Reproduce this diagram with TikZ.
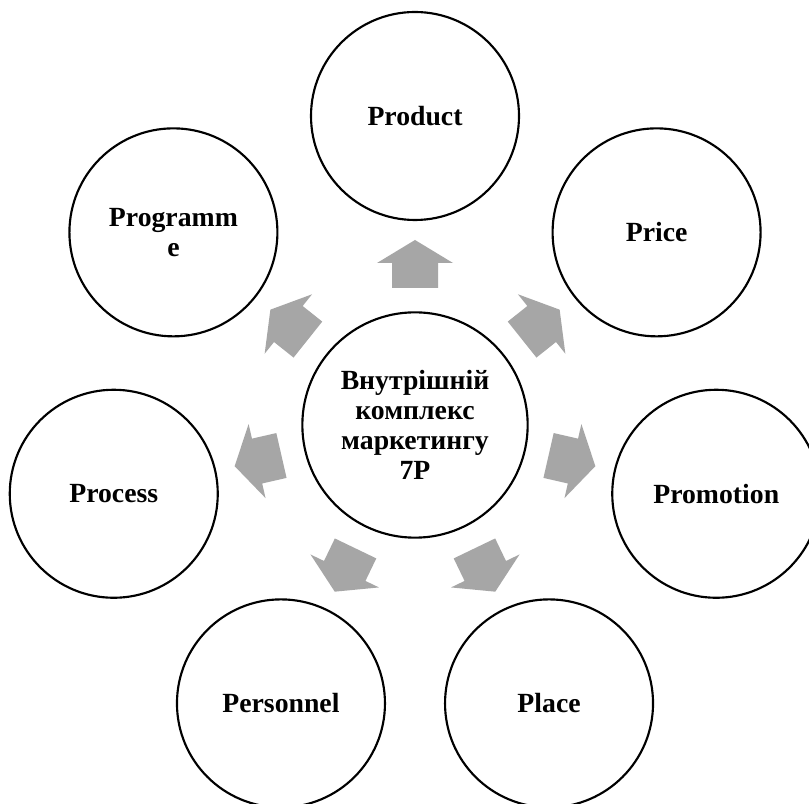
\documentclass[tikz,border=0pt]{standalone}
\usepackage{fontspec}
\setmainfont{Liberation Serif}
\usetikzlibrary{calc}
\definecolor{arrowgray}{RGB}{166,166,166}
\tikzset{
  ring/.style={circle, draw=black, line width=1.6pt, fill=white, inner sep=0pt,
    minimum size=156pt, align=center,
    font=\bfseries\fontsize{20.8}{22.5}\selectfont},
  hubring/.style={ring, minimum size=169pt},
  blockarrow/.style={fill=arrowgray, draw=none}
}
\begin{document}
\begin{tikzpicture}[x=0.75pt, y=0.75pt]
\useasboundingbox (0,0) rectangle (809,803);
\fill[white] (0,0) rectangle (809,803);
\node[hubring] (hub) at (415,378) {Внутрішній\\комплекс\\маркетингу\\7P};
\node[ring] (product)   at ($(hub.center)+(90:309)$)      {Product};
\node[ring] (price)     at ($(hub.center)+(38.57:309)$)   {Price};
\node[ring] (promotion) at ($(hub.center)+(-12.86:309)$)  {Promotion};
\node[ring] (place)     at ($(hub.center)+(-64.29:309)$)  {Place};
\node[ring] (personnel) at ($(hub.center)+(-115.71:309)$) {Personnel};
\node[ring] (process)   at ($(hub.center)+(-167.14:309)$) {Process};
\node[ring] (programme) at ($(hub.center)+(141.43:309)$)  {Programm\\e};
\foreach \ang in {90,38.57,-12.86,-64.29,-115.71,-167.14,141.43}{
  \fill[blockarrow, shift={(hub.center)}, rotate=\ang-90]
    (-23,137) -- (23,137) -- (23,162) -- (38,162) -- (0,185) -- (-38,162) -- (-23,162) -- cycle;
}
\end{tikzpicture}
\end{document}
